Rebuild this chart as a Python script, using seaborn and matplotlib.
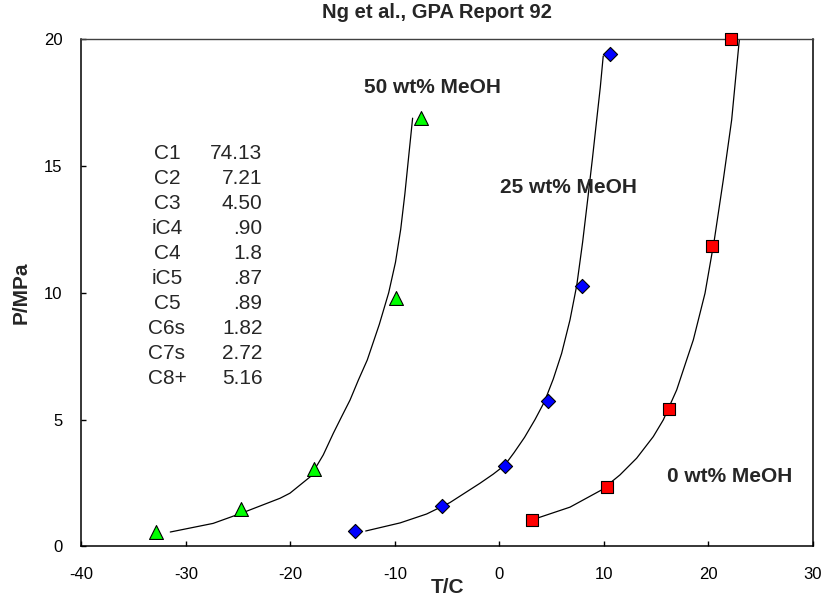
import matplotlib
matplotlib.use("Agg")
import matplotlib.pyplot as plt
import seaborn as sns

# Measured hydrate formation points (T in C, P in MPa)
t_0 = [3.1, 10.3, 16.2, 20.3, 22.2]
p_0 = [1.03, 2.35, 5.43, 11.84, 20.0]
t_25 = [-13.8, -5.5, 0.5, 4.6, 7.9, 10.6]
p_25 = [0.60, 1.61, 3.18, 5.75, 10.27, 19.4]
t_50 = [-32.9, -24.7, -17.7, -9.9, -7.5]
p_50 = [0.56, 1.47, 3.04, 9.8, 16.9]

# Predicted equilibrium curves
curve_t_0 = [3.56, 6.75, 9.78, 11.53, 13.13, 14.72, 15.68, 16.96, 17.91, 18.55,
             19.19, 19.67, 20.56, 21.42, 22.22, 22.92, 22.98]
curve_p_0 = [1.11, 1.55, 2.23, 2.82, 3.48, 4.33, 4.99, 6.17, 7.35, 8.14,
             9.19, 9.98, 12.08, 14.45, 16.81, 19.83, 20.05]
curve_t_25 = [-12.8, -9.5, -6.97, -4.74, -1.87, -0.6, 0.5, 1.4, 2.4, 3.4, 4.3,
              5.15, 5.95, 6.75, 7.4, 7.96, 8.45, 8.9, 9.3, 9.65, 9.93]
curve_p_25 = [0.61, 0.93, 1.28, 1.73, 2.49, 2.85, 3.2, 3.7, 4.3, 5.0, 5.7,
              6.6, 7.61, 8.93, 10.3, 12.0, 13.7, 15.3, 16.8, 18.1, 19.33]
curve_t_50 = [-31.5, -27.4, -24.7, -21.0, -20.05, -18.1, -16.86, -15.9, -15.1,
              -14.3, -13.5, -12.65, -11.5, -10.6, -9.95, -9.45, -9.05, -8.68, -8.31]
curve_p_50 = [0.57, 0.91, 1.31, 1.9, 2.1, 2.75, 3.61, 4.46, 5.12,
              5.77, 6.56, 7.35, 8.75, 10.0, 11.2, 12.5, 13.9, 15.4, 16.88]

# Gas composition (mol%)
components = ["C1", "C2", "C3", "iC4", "C4", "iC5", "C5", "C6s", "C7s", "C8+"]
mole_pct = ["74.13", "7.21", "4.50", ".90", "1.8", ".87", ".89", "1.82", "2.72", "5.16"]

series_labels = ["0 wt% MeOH", "25 wt% MeOH", "50 wt% MeOH"]
x_ticks = [-40, -30, -20, -10, 0, 10, 20, 30]
y_ticks = [0, 5, 10, 15, 20]

sns.set_theme(style="white")
plt.rcParams["font.family"] = ["Liberation Sans", "DejaVu Sans"]
plt.rcParams["axes.unicode_minus"] = False

fig = plt.figure(figsize=(8.22, 6.0), dpi=100)
ax = fig.add_axes([0.0991, 0.0892, 0.8899, 0.8458])

curves = [(curve_t_0, curve_p_0), (curve_t_25, curve_p_25), (curve_t_50, curve_p_50)]
for ct, cp in curves:
    sns.lineplot(x=ct, y=cp, sort=False, estimator=None, color="black",
                 linewidth=0.9, ax=ax)

points = [
    (t_0, p_0, "s", "#FF0000", 70),
    (t_25, p_25, "D", "#0000FF", 52),
    (t_50, p_50, "^", "#00FF00", 100),
]
for tt, pp, mk, col, sz in points:
    sns.scatterplot(x=tt, y=pp, marker=mk, color=col, s=sz, edgecolor="black",
                    linewidth=0.8, ax=ax, zorder=3, clip_on=False)

ax.set_xlim(-40, 30)
ax.set_ylim(0, 20)
ax.set_xticks(x_ticks)
ax.set_yticks(y_ticks)
ax.set_xticklabels([str(v) for v in x_ticks])
ax.set_yticklabels([str(v) for v in y_ticks])
ax.tick_params(axis="both", direction="in", length=3.5, width=1.0,
               colors="black", labelsize=12)
ax.tick_params(axis="x", pad=14.5, bottom=True)
ax.tick_params(axis="y", pad=13.5, left=True)

for name, sp in ax.spines.items():
    sp.set_color("black")
    sp.set_linewidth(1.1)
ax.spines["top"].set_color("#404040")
ax.spines["top"].set_linewidth(1.0)

ax.set_xlabel("T/C", fontsize=15, fontweight="bold")
ax.set_ylabel("P/MPa", fontsize=15, fontweight="bold")
ax.xaxis.set_label_coords(0.5, -0.0818)
ax.xaxis.label.set_va("center")
ax.yaxis.set_label_coords(-0.0827, 0.5)
ax.yaxis.label.set_va("center")

fig.text(437 / 822, 1 - 13 / 600, "Ng et al., GPA Report 92", ha="center",
         va="center", fontsize=14.5, fontweight="bold")

# Series labels next to each curve
label_pos = [(22.06, 2.74), (6.56, 14.13), (-6.46, 18.09)]
for text, (lx, ly) in zip(series_labels, label_pos):
    ax.text(lx, ly, text, ha="center", va="center", fontsize=15,
            fontweight="bold")

# Composition table
row0, step = 15.47, 0.982
for i, (c, v) in enumerate(zip(components, mole_pct)):
    yy = row0 - i * step
    ax.text(-31.82, yy, c, ha="center", va="center", fontsize=15)
    ax.text(-22.68, yy, v, ha="right", va="center", fontsize=15)

fig.savefig("out.png", dpi=100)
